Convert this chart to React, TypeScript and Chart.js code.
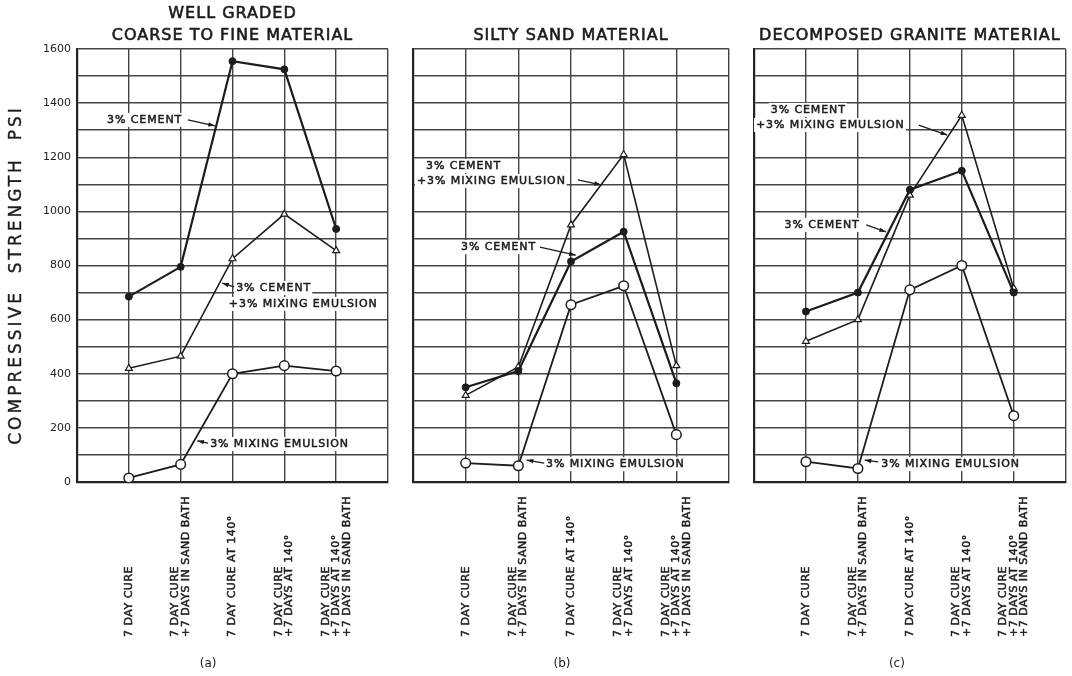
import React, { useEffect, useRef } from 'react';
import { Chart, registerables } from 'chart.js';

Chart.register(...registerables);

// ---------------- DATA ----------------
const conditionLabels: string[][] = [
  ['7 DAY CURE'],
  ['7 DAY CURE', '+7 DAYS IN SAND BATH'],
  ['7 DAY CURE AT 140°'],
  ['7 DAY CURE', '+7 DAYS AT 140°'],
  ['7 DAY CURE', '+7 DAYS AT 140°', '+7 DAYS IN SAND BATH'],
];

const yLabelValues = [0, 200, 400, 600, 800, 1000, 1200, 1400, 1600];
const yAxisTitle = 'COMPRESSIVE  STRENGTH  PSI';

const seriesCement = '3% CEMENT';
const seriesCementEmulsion = '3% CEMENT +3% MIXING EMULSION';
const seriesEmulsion = '3% MIXING EMULSION';

// (a) well graded coarse to fine material
const wellGradedCement = [685, 795, 1555, 1525, 935];
const wellGradedCementEmulsion = [420, 465, 825, 990, 855];
const wellGradedEmulsion = [15, 65, 400, 430, 410];

// (b) silty sand material
const siltySandCement = [350, 410, 815, 925, 365];
const siltySandCementEmulsion = [320, 425, 950, 1210, 430];
const siltySandEmulsion = [70, 60, 655, 725, 175];

// (c) decomposed granite material
const graniteCement = [630, 700, 1080, 1150, 700];
const graniteCementEmulsion = [520, 600, 1060, 1355, 715];
const graniteEmulsion = [75, 50, 710, 800, 245];

const panelTitles: string[][] = [
  ['WELL GRADED', 'COARSE TO FINE MATERIAL'],
  ['SILTY SAND MATERIAL'],
  ['DECOMPOSED GRANITE MATERIAL'],
];
const panelTags = ['(a)', '(b)', '(c)'];

// ---------------- LAYOUT / STYLE ----------------
const H = 676;
const TOP = 49;
const BOTTOM = 482;
const INK = '#1c1c1c';
const FONT = '"DejaVu Sans", "Liberation Sans", sans-serif';

type Ann = { lines: [string, number, number][]; arrow: [number, number, number, number] };

const panels = [
  {
    left: 0, width: 395, padLeft: 0, padRight: 7, yWidth: 77, showY: true, tagX: 2.53,
    title: panelTitles[0], tag: panelTags[0],
    cement: wellGradedCement, cementEmulsion: wellGradedCementEmulsion, emulsion: wellGradedEmulsion,
    anns: [
      { lines: [['3% CEMENT', 0.58, 1338]], arrow: [2.14, 1338, 2.66, 1316] },
      { lines: [['3% CEMENT', 3.07, 717], ['+3% MIXING EMULSION', 2.93, 658]], arrow: [3.03, 721, 2.8, 735] },
      { lines: [['3% MIXING EMULSION', 2.57, 140]], arrow: [2.53, 144, 2.32, 152] },
    ] as Ann[],
  },
  {
    left: 395, width: 342, padLeft: 18, padRight: 8, yWidth: 0, showY: false, tagX: 2.83,
    title: panelTitles[1], tag: panelTags[1],
    cement: siltySandCement, cementEmulsion: siltySandCementEmulsion, emulsion: siltySandEmulsion,
    anns: [
      { lines: [['3% CEMENT', 0.247, 1168], ['+3% MIXING EMULSION', 0.076, 1112]], arrow: [3.13, 1116, 3.57, 1098] },
      { lines: [['3% CEMENT', 0.911, 868]], arrow: [2.41, 868, 3.09, 838] },
      { lines: [['3% MIXING EMULSION', 2.525, 66]], arrow: [2.49, 70, 2.16, 81] },
    ] as Ann[],
  },
  {
    left: 737, width: 335, padLeft: 17, padRight: 2, yWidth: 0, showY: false, tagX: 2.75,
    title: panelTitles[2], tag: panelTags[2],
    cement: graniteCement, cementEmulsion: graniteCementEmulsion, emulsion: graniteEmulsion,
    anns: [
      { lines: [['3% CEMENT', 0.323, 1375], ['+3% MIXING EMULSION', 0.038, 1319]], arrow: [3.17, 1319, 3.72, 1282] },
      { lines: [['3% CEMENT', 0.589, 950]], arrow: [2.16, 950, 2.54, 924] },
      { lines: [['3% MIXING EMULSION', 2.45, 66]], arrow: [2.39, 74, 2.13, 81] },
    ] as Ann[],
  },
];

function toPoints(vals: number[]) {
  return vals.map((v, i) => ({ x: i + 1, y: v }));
}

// normal-weight text, slightly thickened with a thin outline (lettering-guide look)
function inkText(ctx: CanvasRenderingContext2D, t: string, x: number, y: number, sw: number) {
  ctx.fillText(t, x, y);
  ctx.lineWidth = sw;
  ctx.strokeText(t, x, y);
}

function makeDecor(p: any) {
  return {
    id: 'decor' + p.tag,
    afterDraw(chart: any) {
      const ctx = chart.ctx as CanvasRenderingContext2D;
      const xs = chart.scales.x;
      const ys = chart.scales.y;
      const ca = chart.chartArea;
      ctx.save();
      ctx.fillStyle = INK;
      ctx.strokeStyle = INK;
      ctx.lineJoin = 'round';

      // titles
      ctx.font = `16px ${FONT}`;
      (ctx as any).letterSpacing = '1px';
      ctx.textAlign = 'center';
      ctx.textBaseline = 'middle';
      const cx = (ca.left + ca.right) / 2;
      const n = p.title.length;
      p.title.forEach((t: string, i: number) => {
        inkText(ctx, t, cx, 36 - (n - 1 - i) * 22, 0.6);
      });

      // y axis title
      if (p.showY) {
        ctx.save();
        ctx.font = `17px ${FONT}`;
        (ctx as any).letterSpacing = '3px';
        ctx.translate(17, 275);
        ctx.rotate(-Math.PI / 2);
        ctx.textAlign = 'center';
        inkText(ctx, yAxisTitle, 0, 0, 0.4);
        ctx.restore();
      }

      // x condition labels (rotated)
      ctx.font = `11px ${FONT}`;
      (ctx as any).letterSpacing = '0.5px';
      conditionLabels.forEach((lines, i) => {
        const px = xs.getPixelForValue(i + 1);
        const m = lines.length;
        lines.forEach((line, j) => {
          const lx = px + (j - (m - 1) / 2) * 10.5;
          ctx.save();
          ctx.translate(lx, 637);
          ctx.rotate(-Math.PI / 2);
          ctx.textAlign = 'left';
          ctx.textBaseline = 'middle';
          inkText(ctx, line, 0, 0, 0.5);
          ctx.restore();
        });
      });

      // panel tag
      ctx.font = `12px ${FONT}`;
      (ctx as any).letterSpacing = '0px';
      ctx.textAlign = 'center';
      ctx.textBaseline = 'middle';
      ctx.fillText(p.tag, xs.getPixelForValue(p.tagX), 664);

      // annotations
      ctx.font = `11px ${FONT}`;
      (ctx as any).letterSpacing = '0.9px';
      ctx.textAlign = 'left';
      ctx.textBaseline = 'middle';
      p.anns.forEach((a: Ann) => {
        a.lines.forEach(([txt, x, v]) => {
          const tx = xs.getPixelForValue(x);
          const ty = ys.getPixelForValue(v);
          const w = ctx.measureText(txt).width;
          ctx.fillStyle = '#ffffff';
          ctx.fillRect(tx - 2, ty - 7, w + 3, 14);
          ctx.fillStyle = INK;
          inkText(ctx, txt, tx, ty, 0.5);
        });
        const [ax1, av1, ax2, av2] = a.arrow;
        const x1 = xs.getPixelForValue(ax1), y1 = ys.getPixelForValue(av1);
        const x2 = xs.getPixelForValue(ax2), y2 = ys.getPixelForValue(av2);
        ctx.lineWidth = 1.3;
        ctx.beginPath();
        ctx.moveTo(x1, y1);
        ctx.lineTo(x2, y2);
        ctx.stroke();
        const ang = Math.atan2(y2 - y1, x2 - x1);
        const L = 7;
        ctx.beginPath();
        ctx.moveTo(x2, y2);
        ctx.lineTo(x2 - L * Math.cos(ang - 0.32), y2 - L * Math.sin(ang - 0.32));
        ctx.lineTo(x2 - L * Math.cos(ang + 0.32), y2 - L * Math.sin(ang + 0.32));
        ctx.closePath();
        ctx.fill();
      });
      ctx.restore();
    },
  };
}

function buildConfig(p: any): any {
  return {
    type: 'line',
    data: {
      datasets: [
        {
          label: seriesCement,
          data: toPoints(p.cement),
          borderColor: INK,
          borderWidth: 2.2,
          pointStyle: 'circle',
          pointRadius: 3.5,
          pointBackgroundColor: INK,
          pointBorderColor: INK,
          pointBorderWidth: 1,
          tension: 0,
        },
        {
          label: seriesCementEmulsion,
          data: toPoints(p.cementEmulsion),
          borderColor: INK,
          borderWidth: 1.6,
          pointStyle: 'triangle',
          pointRadius: 4,
          pointBackgroundColor: '#ffffff',
          pointBorderColor: INK,
          pointBorderWidth: 1.2,
          tension: 0,
        },
        {
          label: seriesEmulsion,
          data: toPoints(p.emulsion),
          borderColor: INK,
          borderWidth: 1.8,
          pointStyle: 'circle',
          pointRadius: 4.8,
          pointBackgroundColor: '#ffffff',
          pointBorderColor: INK,
          pointBorderWidth: 1.5,
          tension: 0,
        },
      ],
    },
    options: {
      animation: false,
      responsive: false,
      devicePixelRatio: 1,
      layout: { padding: { left: p.padLeft, right: p.padRight, top: TOP, bottom: 0 } },
      plugins: { legend: { display: false }, tooltip: { enabled: false } },
      scales: {
        x: {
          type: 'linear',
          min: 0,
          max: 6,
          ticks: { display: false, stepSize: 1 },
          grid: { color: '#444', lineWidth: 1.4, drawTicks: false },
          border: { color: '#222', width: 2.2 },
          afterFit: (s: any) => { s.height = H - BOTTOM; },
        },
        y: {
          type: 'linear',
          min: 0,
          max: 1600,
          ticks: {
            display: p.showY,
            stepSize: 100,
            maxTicksLimit: 30,
            autoSkip: false,
            padding: 6,
            color: '#222',
            font: { family: FONT, size: 11 },
            callback: (v: number) => (yLabelValues.includes(v) ? String(v) : ''),
          },
          grid: { color: '#444', lineWidth: 1.4, drawTicks: false },
          border: { color: '#222', width: 2.2 },
          afterFit: (s: any) => { s.width = p.yWidth; },
        },
      },
    },
    plugins: [makeDecor(p)],
  };
}

function Panel({ p }: { p: any }) {
  const ref = useRef<HTMLCanvasElement>(null);
  useEffect(() => {
    const chart = new Chart(ref.current as HTMLCanvasElement, buildConfig(p));
    return () => chart.destroy();
  }, []);
  return (
    <canvas
      ref={ref}
      width={p.width}
      height={H}
      style={{ position: 'absolute', left: p.left, top: 0, width: p.width, height: H }}
    />
  );
}

export default function App() {
  return (
    <div style={{ position: 'absolute', left: 0, top: 0, width: 1072, height: H, background: '#ffffff', overflow: 'hidden' }}>
      {panels.map((p, i) => (
        <Panel key={i} p={p} />
      ))}
    </div>
  );
}
